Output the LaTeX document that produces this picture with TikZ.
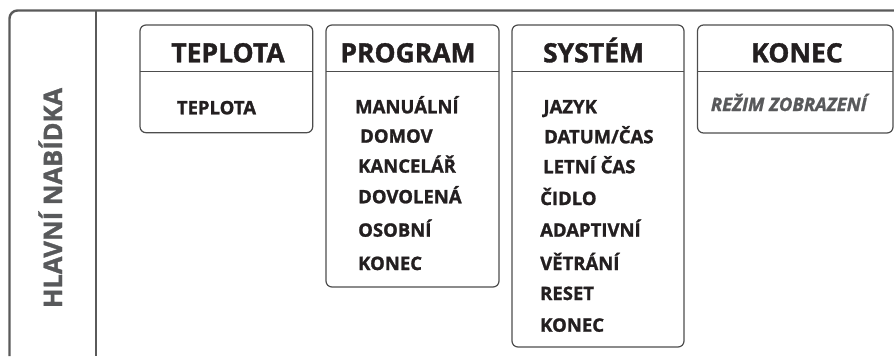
\documentclass[tikz,border=0pt]{standalone}
\usepackage{fontspec}
\setmainfont{Open Sans}[BoldFont={Open Sans Bold},BoldItalicFont={Open Sans Bold Italic},BoldFeatures={FakeBold=1.3},BoldItalicFeatures={FakeBold=1.3}]
\definecolor{Frame}{HTML}{5A5A5A}
\definecolor{BoxLine}{HTML}{4D4D4D}
\definecolor{Ink}{HTML}{231F20}
\definecolor{Muted}{HTML}{58595B}
\newcommand{\menubox}[6]{%
  \draw[BoxLine,line width=1.2pt,rounded corners=6pt] (#2,25) rectangle (#3,#4);
  \draw[BoxLine,line width=.9pt] (#2,71.5)--(#3,71.5);
  \node[anchor=base,inner sep=0pt,text=Ink,font=\bfseries\fontsize{26.5}{30}\selectfont] (#1) at (#5,62.3) {#6};
}
\newcommand{\menuitem}[4]{%
  \node[anchor=base west,inner sep=0pt,text=Ink,font=\bfseries\fontsize{18.5}{22}\selectfont] (#1) at (#2,#3) {#4};
}

\begin{document}
\begin{tikzpicture}[x=1pt,y=-1pt]
\path[use as bounding box] (0,0) rectangle (894,356);
\draw[Frame,line width=2.4pt,rounded corners=8pt] (9.5,356)--(9.5,10.5)--(894,10.5);
\draw[Frame,line width=2.4pt] (96,10.5)--(96,356);
\node[anchor=base,rotate=90,inner sep=0pt,text=Muted,font=\bfseries\fontsize{25.5}{30}\selectfont] (hlavni) at (62,198) {HLAVNÍ NABÍDKA};

\menubox{teplota}{140}{312.7}{132.7}{228}{TEPLOTA}
\menuitem{teplota-1}{176.7}{114.3}{TEPLOTA}

\menubox{program}{326}{499}{287}{408}{PROGRAM}
\menuitem{program-1}{355}{113.3}{MANUÁLNÍ}
\menuitem{program-2}{360}{142.7}{DOMOV}
\menuitem{program-3}{358}{172.7}{KANCELÁŘ}
\menuitem{program-4}{358}{203.3}{DOVOLENÁ}
\menuitem{program-5}{358}{236.7}{OSOBNÍ}
\menuitem{program-6}{358}{270}{KONEC}

\menubox{system}{512}{684}{347}{593.5}{SYSTÉM}
\menuitem{system-1}{543.3}{113.3}{JAZYK}
\menuitem{system-2}{544}{143.3}{DATUM/ČAS}
\menuitem{system-3}{543}{173.3}{LETNÍ ČAS}
\menuitem{system-4}{540}{205}{ČIDLO}
\menuitem{system-5}{540}{236.7}{ADAPTIVNÍ}
\menuitem{system-6}{540}{270}{VĚTRÁNÍ}
\menuitem{system-7}{540}{300}{RESET}
\menuitem{system-8}{540}{331.7}{KONEC}

\menubox{konec}{697.5}{893}{133}{797}{KONEC}
\node[anchor=base west,inner sep=0pt,text=Muted,font=\bfseries\itshape\fontsize{18.5}{22}\selectfont] (konec-1) at (710.7,111) {REŽIM ZOBRAZENÍ};
\end{tikzpicture}
\end{document}
